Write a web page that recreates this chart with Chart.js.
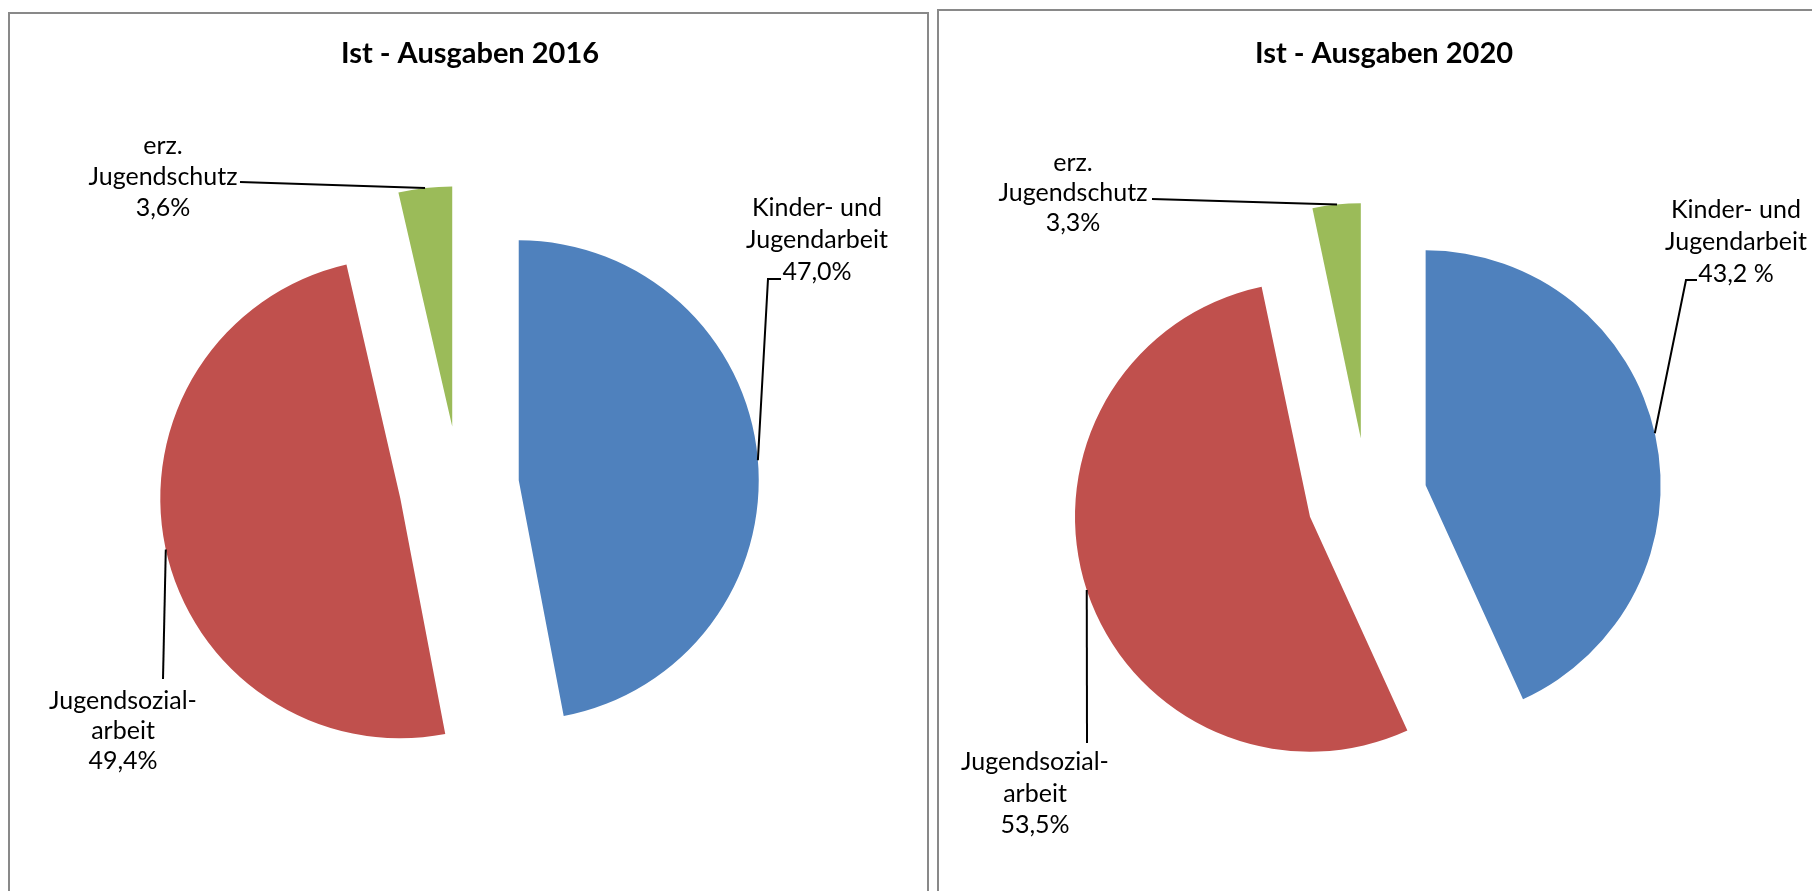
<!DOCTYPE html>
<html>
<head>
<meta charset="utf-8">
<script src="https://cdn.jsdelivr.net/npm/chart.js@4.4.1/dist/chart.umd.min.js"></script>
<style>
  html, body { margin: 0; padding: 0; background: #fff; overflow: hidden; width: 1812px; height: 891px; }
  .panel { position: absolute; border: 2px solid #898989; box-sizing: border-box; }
  #p2016 { left: 8px; top: 12px; width: 921px; height: 1000px; }
  #p2020 { left: 937px; top: 9px; width: 1000px; height: 1000px; }
  canvas { position: absolute; top: 0; }
</style>
</head>
<body>
<div class="panel" id="p2016"></div>
<div class="panel" id="p2020"></div>
<canvas id="chart2016" width="919" height="950" style="left:9px"></canvas>
<canvas id="chart2020" width="892" height="950" style="left:938px"></canvas>
<script>
var categories = ["Kinder- und Jugendarbeit", "Jugendsozialarbeit", "erz. Jugendschutz"];
var values2016 = [47.0, 49.4, 3.6];
var values2020 = [43.2, 53.5, 3.3];
var labels2016 = [["Kinder- und", "Jugendarbeit", "47,0%"], ["Jugendsozial-", "arbeit", "49,4%"], ["erz.", "Jugendschutz", "3,6%"]];
var labels2020 = [["Kinder- und", "Jugendarbeit", "43,2 %"], ["Jugendsozial-", "arbeit", "53,5%"], ["erz.", "Jugendschutz", "3,3%"]];
var colors = ["#4F81BD", "#C0504D", "#9BBB59"];

var fontFamily = "Lato, 'Open Sans', sans-serif";

// pushes every slice out along its bisector (excel style explode)
var explodePlugin = {
    id: 'explode',
    afterDatasetsUpdate: function (chart, args, opts) {
        var meta = chart.getDatasetMeta(0);
        meta.data.forEach(function (arc) {
            var mid = (arc.startAngle + arc.endAngle) / 2;
            arc.x += Math.cos(mid) * opts.distance;
            arc.y += Math.sin(mid) * opts.distance;
        });
    }
};

// panel title + data labels with leader lines outside the slices
var labelPlugin = {
    id: 'pieLabels',
    afterDatasetsDraw: function (chart, args, opts) {
        var ctx = chart.ctx;
        var meta = chart.getDatasetMeta(0);
        ctx.save();
        ctx.fillStyle = '#000';
        ctx.textAlign = 'center';
        ctx.textBaseline = 'middle';
        ctx.font = 'bold 29px ' + fontFamily;
        ctx.fillText(opts.title, opts.titleX - opts.originX, opts.titleY);

        opts.items.forEach(function (it, i) {
            var arc = meta.data[i];
            var a = it.angle * Math.PI / 180;
            ctx.beginPath();
            ctx.moveTo(arc.x + Math.cos(a) * arc.outerRadius, arc.y + Math.sin(a) * arc.outerRadius);
            it.leader.forEach(function (p) {
                ctx.lineTo(p[0] - opts.originX, p[1]);
            });
            ctx.strokeStyle = '#000';
            ctx.lineWidth = 2;
            ctx.stroke();

            ctx.font = '25px ' + fontFamily;
            opts.text[i].forEach(function (line, k) {
                ctx.fillText(line, it.x - opts.originX, it.y + k * it.lh);
            });
        });
        ctx.restore();
    }
};

function makePie(id, title, values, text, radius, padding, labelOpts) {
    var ctx = document.getElementById(id).getContext("2d");
    return new Chart(ctx, {
        type: 'pie',
        data: {
            labels: categories,
            datasets: [{
                data: values,
                backgroundColor: colors,
                borderWidth: 0,
                radius: radius
            }]
        },
        options: {
            responsive: false,
            animation: false,
            layout: {padding: padding},
            plugins: {
                legend: {display: false},
                tooltip: {enabled: false},
                title: {display: false},
                explode: {distance: 60},
                pieLabels: {
                    title: title,
                    titleX: labelOpts.titleX,
                    titleY: 54,
                    originX: labelOpts.originX,
                    items: labelOpts.items,
                    text: text
                }
            }
        },
        plugins: [explodePlugin, labelPlugin]
    });
}

makePie("chart2016", "Ist - Ausgaben 2016", values2016, labels2016, 240,
    {left: 0, right: 19, top: 22, bottom: 0},
    {
        originX: 9,
        titleX: 470,
        items: [
            {angle: -4.8, leader: [[768, 279], [781, 279]], x: 817, y: 208, lh: 32},
            {angle: 167.7, leader: [[163, 679]], x: 123, y: 701, lh: 30},
            {angle: -96.5, leader: [[240, 182]], x: 163, y: 146, lh: 31}
        ]
    });

makePie("chart2020", "Ist - Ausgaben 2020", values2020, labels2020, 235,
    {left: 0, right: 34, top: 46, bottom: 0},
    {
        originX: 938,
        titleX: 1384,
        items: [
            {angle: -12.8, leader: [[1686, 280], [1697, 280]], x: 1736, y: 210, lh: 32},
            {angle: 161.8, leader: [[1087, 743]], x: 1035, y: 762, lh: 31.5},
            {angle: -95.8, leader: [[1152, 199]], x: 1073, y: 163, lh: 30}
        ]
    });
</script>
</body>
</html>
